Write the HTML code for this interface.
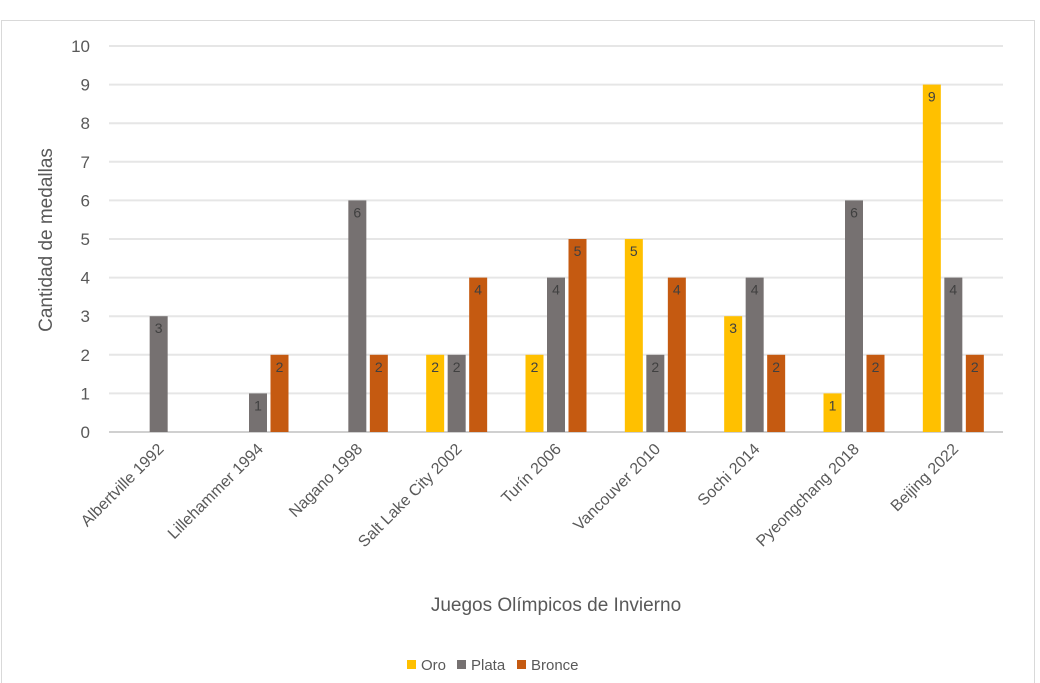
<!DOCTYPE html>
<html><head><meta charset="utf-8"><style>
body{margin:0;background:#fff;}
svg{display:block;font-family:"Liberation Sans",sans-serif;}
</style></head><body>
<svg id="chart" width="1040" height="683">
<rect x="1.5" y="20.5" width="1033" height="670" fill="#fff" stroke="#d9d9d9"/>
<g id="grid"></g><g id="bars"></g><g id="xlabels"></g>
<text x="0" y="0" transform="translate(52,240) rotate(-90)" text-anchor="middle" font-size="19" fill="#595959">Cantidad de medallas</text>
<text x="556" y="611" text-anchor="middle" font-size="19" fill="#595959">Juegos Olímpicos de Invierno</text>
<g>
<rect x="407" y="660" width="9" height="9" fill="#ffc000"/>
<text x="421" y="670" font-size="15" fill="#595959">Oro</text>
<rect x="457" y="660" width="9" height="9" fill="#767171"/>
<text x="471" y="670" font-size="15" fill="#595959">Plata</text>
<rect x="517" y="660" width="9" height="9" fill="#c55a11"/>
<text x="531" y="670" font-size="15" fill="#595959">Bronce</text>
</g>
</svg>
<script>
const categories=["Albertville 1992","Lillehammer 1994","Nagano 1998","Salt Lake City 2002","Turín 2006","Vancouver 2010","Sochi 2014","Pyeongchang 2018","Beijing 2022"];
const oro=[0,0,0,2,2,5,3,1,9];
const plata=[3,1,6,2,4,2,4,6,4];
const bronce=[0,2,2,4,5,4,2,2,2];
const yTicks=[0,1,2,3,4,5,6,7,8,9,10];
const NS="http://www.w3.org/2000/svg";
const x0=109,x1=1003,y0=432,y1=46;
const bw=(x1-x0)/categories.length;
const y=v=>y0-(v/10)*(y0-y1);
const xc=i=>x0+bw*(i+0.5);
function mk(t,a,p){const e=document.createElementNS(NS,t);for(const k in a)e.setAttribute(k,a[k]);p.appendChild(e);return e;}
const g=document.getElementById('grid');
yTicks.forEach(v=>{
 const l=mk('line',{x1:x0,x2:x1,y1:y(v),y2:y(v),stroke:v===0?'#d0d0d0':'#e6e6e6','stroke-width':2},g);
 
 
 const t=mk('text',{x:90,y:y(v)+6,'text-anchor':'end','font-size':17,fill:'#595959'},g);
 t.textContent=v;
 
 
});
const series=[["oro",oro,"#ffc000",-21.5],["plata",plata,"#767171",0],["bronce",bronce,"#c55a11",21.5]];
const b=document.getElementById('bars');
series.forEach(([n,vals,c,off])=>{
 vals.forEach((v,i)=>{
  if(!v)return;
  const r=mk('rect',{x:xc(i)+off-9,y:y(v),width:18,height:y(0)-y(v),fill:c},b);
  
  
  const t=mk('text',{x:xc(i)+off,y:y(v)+17,'text-anchor':'middle','font-size':14,fill:'#404040'},b);
  t.textContent=v;
  
  
 });
});
const xl=document.getElementById('xlabels');
categories.forEach((c,i)=>{
 const t=mk('text',{x:0,y:0,'text-anchor':'end','font-size':16,fill:'#595959',transform:`translate(${xc(i)+6},${450}) rotate(-45)`},xl);
 t.textContent=c;
 
 
});
</script>
</body></html>
